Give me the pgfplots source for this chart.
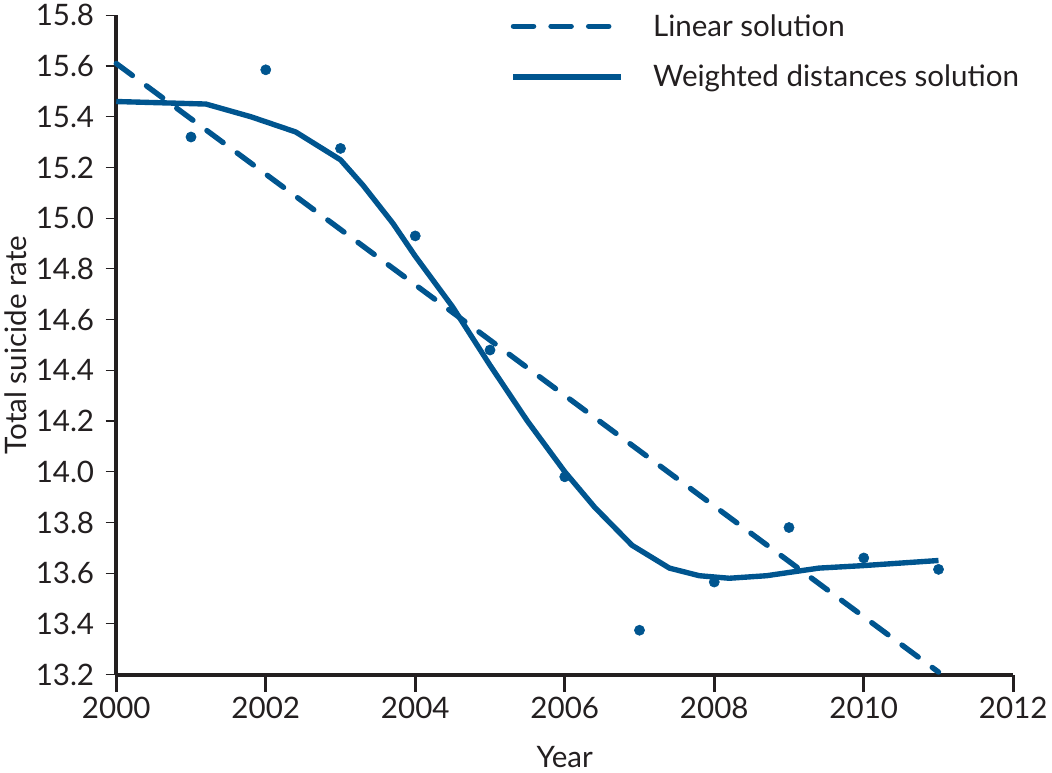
\documentclass[border=0pt]{standalone}
\usepackage{fontspec}
\setmainfont{Lato}
\usepackage{pgfplots}
\pgfplotsset{compat=1.18}
\definecolor{lineblue}{RGB}{0,85,143}
\definecolor{axgray}{RGB}{35,31,32}

\begin{document}
\begin{tikzpicture}
\begin{axis}[
	width=668pt, height=491pt, scale only axis,
	xmin=2000, xmax=2012, ymin=13.2, ymax=15.8,
	xtick={2000,2002,...,2012}, ytick={13.2,13.4,...,15.81},
	axis x line=bottom, axis y line=left,
	axis line style={line width=3pt, axgray, -},
	tick align=outside,
	x tick style={line width=2.5pt, axgray}, major tick length=13pt,
	y tick style={line width=0.8pt, axgray, /pgfplots/major tick length=8pt},
	xticklabel style={/pgf/number format/1000 sep={}},
	yticklabel style={/pgf/number format/fixed, /pgf/number format/fixed zerofill, /pgf/number format/precision=1},
	/pgf/number format/assume math mode=true,
	ticklabel style={font=\fontsize{22}{26}\selectfont, text=axgray},
	label style={font=\fontsize{22}{26}\selectfont, text=axgray},
	xlabel={Year}, ylabel={Total suicide rate},
	xlabel style={yshift=-14pt},
	legend style={at={(0.435,1.01)}, anchor=north west, draw=none, fill=none,
		font=\fontsize{22}{26}\selectfont, text=axgray, row sep=16pt},
	legend cell align=left,
	legend image code/.code={\draw[#1] (0pt,0pt) -- (80pt,0pt); \path (100pt,0pt);},
	clip=false,
]
\addplot[lineblue, line width=4pt, line cap=round, dash pattern=on 15pt off 13pt] coordinates {
	(2000,15.61) (2011,13.21)};
\addlegendentry{Linear solution}
\addplot[lineblue, line width=4pt, line join=round] coordinates {
	(2000,15.46) (2001.2,15.45) (2001.8,15.40) (2002.4,15.34) (2003,15.23)
	(2003.3,15.13) (2003.7,14.98) (2004,14.85) (2004.5,14.65) (2005,14.42)
	(2005.5,14.20) (2006,14.00) (2006.4,13.86) (2006.9,13.71) (2007.4,13.62)
	(2007.8,13.59) (2008.2,13.58) (2008.7,13.59) (2009.4,13.62) (2010,13.63)
	(2011,13.65)};
\addlegendentry{Weighted distances solution}
\addplot[only marks, mark=*, mark size=3.8pt, lineblue, forget plot] coordinates {
	(2001,15.32) (2002,15.585) (2003,15.275) (2004,14.93) (2005,14.48)
	(2006,13.98) (2007,13.375) (2008,13.565) (2009,13.78) (2010,13.66) (2011,13.615)};
\end{axis}
\end{tikzpicture}
\end{document}
